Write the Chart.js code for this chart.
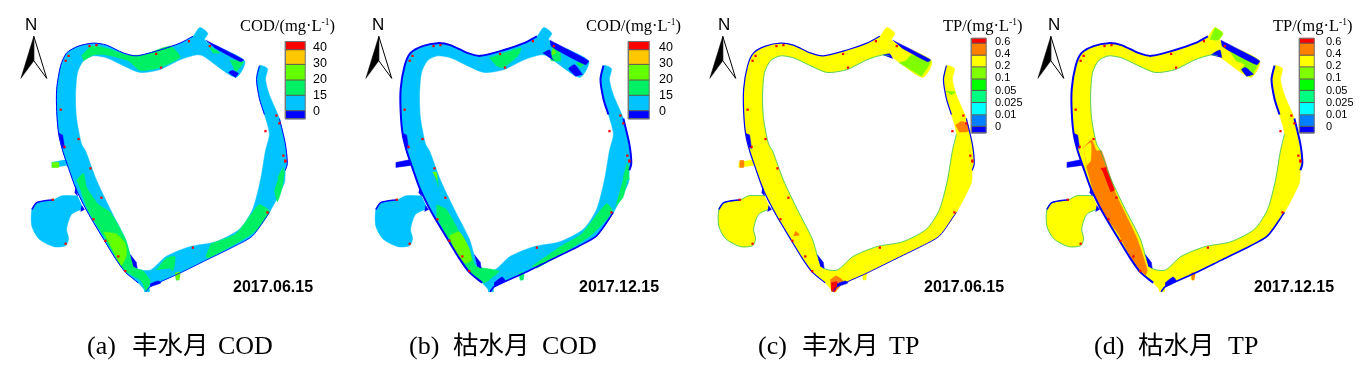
<!DOCTYPE html>
<html>
<head>
<meta charset="utf-8">
<script src="https://cdn.jsdelivr.net/npm/chart.js@4"></script>
<style>
  html, body { margin: 0; padding: 0; background: #fff; }
  canvas { display: block; }
</style>
</head>
<body>
<canvas id="map" width="1366" height="371"></canvas>
<script>
// river shapes, pairs of x, y in picture pixels
const riverOutline = [[143,294],[135,285],[122,274],[112,260],[100,240],[87,218],[80,205],[72,188],[65,168],[59,150],[55,133],[53,110],[53,87],[57,63],[63,50],[75,43],[90,40],[103,42],[120,50],[133,53],[157,47],[177,40],[190,33],[197,24],[205,30],[202,37],[242,58],[233,75],[200,53],[193,52],[177,57],[157,67],[137,70],[120,63],[103,55],[90,53],[80,58],[74,70],[72,93],[73,117],[78,143],[82,150],[93,180],[107,210],[122,240],[128,260],[133,270],[147,272],[163,258],[187,248],[213,243],[237,230],[250,210],[258,180],[263,150],[267,133],[262,113],[257,97],[254,77],[257,63],[265,66],[263,77],[267,93],[277,117],[283,143],[285,163],[283,170],[282,183],[267,213],[250,237],[233,247],[203,262],[177,275],[147,289]];
const sideChannel = [[48,162],[63,159],[63,165],[48,167]];
const lake = [[74,196],[58,196],[50,200],[33,203],[28,210],[28,227],[35,240],[50,248],[62,247],[65,240],[63,230],[68,215],[80,209]];
const tributary = [[172,275],[177,274],[176,282],[173,282]];
const southTip = [[140,286],[146,286],[146,294],[141,294]];

// blue bands that are in all four panels
const cornerPatch = [[127,256],[133,264],[134,270],[130,268]];
const junctionPatch = [[72,186],[74,196],[71,193]];
const lakeNeck = [[78,206],[81,210],[77,212]];
const shoalWest = [[55,132],[59,134],[61,148],[58,146]];

// COD, 2017.06.15
const codJuneSpring = [
  [[78,53],[88,43],[103,45],[123,52],[140,52],[167,43],[175,50],[177,55],[157,65],[137,68],[125,58],[103,52],[90,52],[80,58]],
  [[205,42],[217,50],[210,50]],
  [[227,57],[241,59],[233,70]],
  [[73,180],[80,173],[83,187],[95,205],[107,213],[122,240],[128,260],[133,270],[140,273],[147,283],[143,293],[138,283],[122,273],[113,260],[100,237],[85,212],[78,193]],
  [[153,272],[163,260],[172,258],[170,273],[167,270]],
  [[208,245],[233,235],[250,213],[257,205],[267,212],[253,232],[233,245],[205,260],[203,257]],
  [[277,175],[282,170],[280,187],[275,202],[272,190]],
  [[275,178],[281,167],[280,180]]
];
const codJuneLime = [
  [[100,233],[113,235],[122,245],[123,257],[118,267],[110,253]],
  [[48,162],[55,162],[55,167],[48,167]],
  [[172,275],[177,274],[176,282],[173,282]]
];
const codJuneBlue = [
  [[203,37],[241,57],[238,59],[212,45]],
  [[233,75],[226,70],[230,68],[236,71]],
  [[147,289],[158,285],[155,283],[147,286]]
];

// COD, 2017.12.15
const codDecSpring = [
  [[142,55],[154,51],[174,45],[171,53],[156,65],[149,63]],
  [[203,52],[207,45],[212,45],[214,58],[204,58]],
  [[229,60],[239,60],[234,65]],
  [[89,205],[99,210],[112,233],[124,257],[129,268],[152,273],[142,282],[137,285],[121,273],[109,255],[99,237],[89,217]],
  [[185,268],[215,247],[235,235],[260,204],[266,212],[246,235],[216,255],[190,270]],
  [[277,178],[283,165],[277,197],[269,207]],
  [[277,177],[281,163],[283,180]],
  [[86,173],[90,180],[91,187]],
  [[172,275],[177,274],[176,282],[173,282]]
];
const codDecLime = [
  [[102,237],[112,233],[122,250],[124,262],[118,265],[108,255]],
  [[85,172],[89,172],[90,180]],
  [[206,44],[209,50],[205,52]]
];
const codDecBlue = [
  [[203,37],[242,58],[239,62],[210,47],[204,43]],
  [[196,50],[203,47],[205,55],[207,58]],
  [[229,74],[222,66],[228,62],[236,72]],
  [[147,289],[158,283],[155,279],[147,285]]
];

// TP, 2017.06.15
const tpJuneLime = [
  [[209,60],[216,58],[222,52],[241,58],[232,74]],
  [[256,89],[266,90],[262,93]]
];
const tpJuneOrange = [
  [[266,124],[272,120],[278,122],[279,130],[270,131]],
  [[140,282],[146,278],[153,283],[146,293],[141,293]],
  [[49,160],[53,160],[53,167],[49,167]],
  [[105,232],[109,236],[103,237]]
];
const tpJuneRed = [
  [[141,285],[147,284],[145,294],[141,293]]
];
const tpJuneBlue = [
  [[203,37],[241,57],[238,59],[212,45]],
  [[193,52],[200,51],[203,56]],
  [[147,289],[158,285],[155,283],[147,286]]
];

// TP, 2017.12.15
const tpDecLime = [
  [[197,24],[205,30],[200,37],[192,36]],
  [[212,48],[222,48],[241,58],[233,74],[223,67],[227,62],[218,58]]
];
const tpDecOrange = [
  [[65,147],[73,139],[78,150],[83,150],[97,193],[118,238],[129,272],[127,277],[113,260],[100,235],[80,207],[68,167]],
  [[173,275],[177,275],[176,282],[174,282]]
];
const tpDecYellow = [
  [[65,147],[72,142],[72,160],[68,165]]
];
const tpDecRed = [
  [[83,168],[87,168],[96,190],[92,192]],
  [[82,168],[85,168],[90,178]]
];
const tpDecBlue = [
  [[203,37],[242,58],[239,62],[210,47],[204,43]],
  [[193,52],[202,47],[204,55]],
  [[229,74],[224,67],[228,65],[236,72]],
  [[147,289],[158,283],[155,279],[147,285]]
];

// red cells seen in every panel
const redCells = [[65,53],[62,58],[86,43],[93,42],[57,108],[75,138],[61,146],[87,168],[158,65],[153,51],[186,38],[207,43],[281,155],[283,161],[274,114],[277,122],[263,130],[90,220],[98,198],[102,242],[115,258],[122,273],[190,249],[265,213],[49,200],[62,245],[283,160]];

// north arrow
const arrowDark = [[30,33],[17,76],[30,58]];
const arrowLight = [[30,33],[43,76],[30,58]];

// colour bars
const codLabels = ['0', '15', '20', '30', '40'];
const tpLabels = ['0', '0.01', '0.025', '0.05', '0.1', '0.2', '0.4', '0.6'];
const codBarEdges = [117.3, 109, 93.3, 77.7, 61.7, 46.7, 38.3];
const tpBarEdges = [131.7, 125, 113.3, 100.7, 88.3, 76.7, 64.3, 52.3, 40, 35];
const codLabelY = [112, 96, 80, 64, 48];
const tpLabelY = [127, 115, 103, 90.7, 78.3, 65.7, 53.7, 41.7];

const codColours = ['#0000ff', '#00c3ff', '#00f064', '#64ff00', '#ffc800', '#ff0000'];
const tpColours = ['#0000ff', '#0080ff', '#00ffff', '#00ff80', '#00ff00', '#80ff00', '#ffff00', '#ff8000', '#ff0000'];
const BLUE = '#0000ff', RED = '#ff0000', ORANGE = '#ff8000', YELLOW = '#ffff00';
const SPRING = '#00f064', LIME_COD = '#64ff00', LIME_TP = '#80ff00';

const panels = [
  {
    dx: 0, ax: 0, base: codColours[1], edge: 1, bankLine: null, sideBlue: false,
    zones: [[SPRING, codJuneSpring], [LIME_COD, codJuneLime], [BLUE, codJuneBlue]],
    title: 'COD/(mg·L', titleX: 240, barX: 283, barW: 20, labelX: 313, labelFont: 12.5,
    edges: codBarEdges, colours: codColours, labels: codLabels, labelY: codLabelY,
    date: '2017.06.15', dateX: 233,
    tag: '(a)', cjk: '丰水月', latin: 'COD', tagX: 87, cjkX: 132, latinX: 218
  },
  {
    dx: 346, ax: 347, base: codColours[1], edge: 2, bankLine: null, sideBlue: true,
    zones: [[SPRING, codDecSpring], [LIME_COD, codDecLime], [BLUE, codDecBlue]],
    title: 'COD/(mg·L', titleX: 586, barX: 628, barW: 21, labelX: 659, labelFont: 12.5,
    edges: codBarEdges, colours: codColours, labels: codLabels, labelY: codLabelY,
    date: '2017.12.15', dateX: 579,
    tag: '(b)', cjk: '枯水月', latin: 'COD', tagX: 409, cjkX: 453, latinX: 542
  },
  {
    dx: 691, ax: 693, base: YELLOW, edge: 1.2, bankLine: '#30c070', sideBlue: false,
    zones: [[LIME_TP, tpJuneLime], [ORANGE, tpJuneOrange], [RED, tpJuneRed], [BLUE, tpJuneBlue]],
    title: 'TP/(mg·L', titleX: 943, barX: 973, barW: 15, labelX: 995, labelFont: 11,
    edges: tpBarEdges, colours: tpColours, labels: tpLabels, labelY: tpLabelY,
    date: '2017.06.15', dateX: 924,
    tag: '(c)', cjk: '丰水月', latin: 'TP', tagX: 758, cjkX: 802, latinX: 889
  },
  {
    dx: 1021, ax: 1023, base: YELLOW, edge: 2, bankLine: '#30c070', sideBlue: true,
    zones: [[LIME_TP, tpDecLime], [ORANGE, tpDecOrange], [YELLOW, tpDecYellow], [RED, tpDecRed], [BLUE, tpDecBlue]],
    title: 'TP/(mg·L', titleX: 1273, barX: 1303, barW: 15, labelX: 1326, labelFont: 11,
    edges: tpBarEdges, colours: tpColours, labels: tpLabels, labelY: tpLabelY,
    date: '2017.12.15', dateX: 1254,
    tag: '(d)', cjk: '枯水月', latin: 'TP', tagX: 1094, cjkX: 1138, latinX: 1228
  }
];

const datasets = [];

function shift(points, dx) {
  return points.map(p => ({x: p[0] + dx, y: p[1]}));
}

function addShape(points, dx, colour, tension) {
  datasets.push({
    data: shift(points, dx), showLine: true, fill: 'shape', backgroundColor: colour,
    borderColor: colour, borderWidth: 0.5, pointRadius: 0, tension: tension || 0, clip: false
  });
}

function addEdge(points, dx, colour, width, tension) {
  datasets.push({
    data: shift(points, dx), showLine: true, fill: false, borderColor: colour,
    borderWidth: width, pointRadius: 0, tension: tension || 0, clip: false
  });
}

panels.forEach(function (p) {
  const sideColour = p.sideBlue ? BLUE : p.base;
  addShape(lake, p.dx, p.base, 0.25);
  addShape(sideChannel, p.dx, sideColour);
  addShape(tributary, p.dx, p.base);
  addShape(riverOutline, p.dx, p.base, 0.25);
  addShape(southTip, p.dx, p.base);

  p.zones.forEach(function (zone) {
    zone[1].forEach(function (shape) {
      addShape(shape, p.dx, zone[0], 0.2);
    });
  });

  if (p.bankLine) {
    addEdge(riverOutline.slice(28, 56), p.dx, p.bankLine, 0.8, 0.25);
    addEdge(lake, p.dx, p.bankLine, 0.8, 0.25);
  }

  // the blue rim along the outer banks
  addEdge(riverOutline.slice(1, 23), p.dx, BLUE, p.edge, 0.25);
  addEdge(riverOutline.slice(56, 60), p.dx, BLUE, p.edge, 0.25);
  addEdge(riverOutline.slice(63, 67), p.dx, BLUE, p.edge, 0.25);
  addEdge(riverOutline.slice(68).concat([riverOutline[0]]), p.dx, BLUE, p.edge * 0.8, 0.25);
  addEdge(lake.slice(2, 5), p.dx, BLUE, 1.5, 0.25);
  [cornerPatch, junctionPatch, lakeNeck, shoalWest].forEach(function (shape) {
    addShape(shape, p.dx, BLUE);
  });

  datasets.push({
    data: shift(redCells, p.dx), showLine: false, pointStyle: 'rect',
    pointRadius: 1.6, pointBackgroundColor: RED, pointBorderWidth: 0, clip: false
  });

  // colour bar
  for (let i = 0; i < p.colours.length; i++) {
    addShape([[p.barX, p.edges[i]], [p.barX + p.barW, p.edges[i]], [p.barX + p.barW, p.edges[i + 1]], [p.barX, p.edges[i + 1]]], 0, p.colours[i]);
    addEdge([[p.barX, p.edges[i]], [p.barX + p.barW, p.edges[i]]], 0, '#555555', 1);
  }
  addEdge([[p.barX, p.edges[0]], [p.barX + p.barW, p.edges[0]], [p.barX + p.barW, p.edges[p.edges.length - 1]], [p.barX, p.edges[p.edges.length - 1]], [p.barX, p.edges[0]]], 0, '#777777', 1);

  // north arrow
  addShape(arrowLight, p.ax, '#ffffff');
  addEdge(arrowLight.concat([arrowLight[0]]), p.ax, '#000000', 1);
  addShape(arrowDark, p.ax, '#000000');
});

// later shapes have to paint over earlier ones
datasets.forEach((d, i) => { d.order = -i; });

const mapText = {
  id: 'mapText',
  afterDraw(chart) {
    const ctx = chart.ctx;
    ctx.save();
    ctx.textBaseline = 'alphabetic';
    ctx.textAlign = 'left';
    panels.forEach(function (p) {
      ctx.fillStyle = '#000000';
      ctx.font = '17px "Liberation Sans"';
      ctx.fillText('N', p.ax + 25, 30);

      ctx.font = '16.5px "Liberation Serif"';
      ctx.fillText(p.title, p.titleX, 31);
      let w = ctx.measureText(p.title).width;
      ctx.font = '9.5px "Liberation Serif"';
      ctx.fillText('-1', p.titleX + w, 25);
      const w2 = ctx.measureText('-1').width;
      ctx.font = '16.5px "Liberation Serif"';
      ctx.fillText(')', p.titleX + w + w2, 31);

      ctx.font = p.labelFont + 'px "Liberation Sans"';
      ctx.textBaseline = 'middle';
      p.labels.forEach(function (label, i) {
        ctx.fillText(label, p.labelX, p.labelY[i]);
      });
      ctx.textBaseline = 'alphabetic';

      ctx.font = 'bold 16px "Liberation Sans"';
      ctx.fillText(p.date, p.dateX, 292);

      ctx.font = '26px "Liberation Serif"';
      ctx.fillText(p.tag, p.tagX, 354);
      ctx.fillText(p.latin, p.latinX, 354);
      ctx.font = '25.5px "Noto Sans CJK SC"';
      ctx.fillText(p.cjk, p.cjkX, 354);
    });
    ctx.restore();
  }
};

new Chart(document.getElementById('map').getContext('2d'), {
  type: 'scatter',
  data: {datasets: datasets},
  options: {
    responsive: false,
    animation: false,
    layout: {padding: 0},
    plugins: {legend: {display: false}, tooltip: {enabled: false}},
    scales: {
      x: {type: 'linear', min: 0, max: 1366, display: false},
      y: {type: 'linear', min: 0, max: 371, reverse: true, display: false}
    }
  },
  plugins: [mapText]
});
</script>
</body>
</html>
